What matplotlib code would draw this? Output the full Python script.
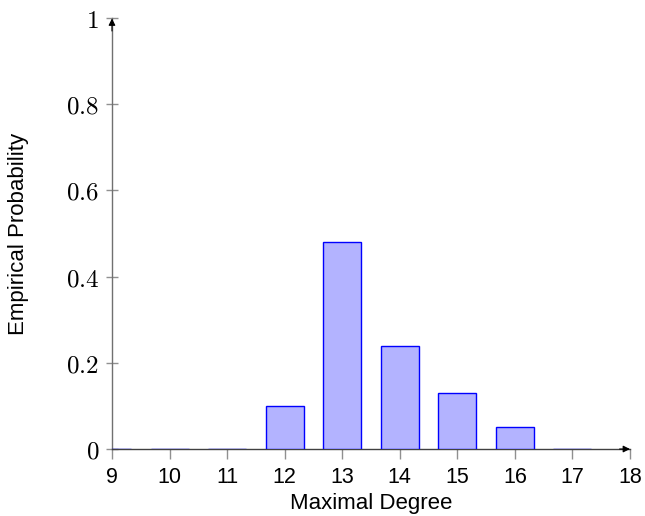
import matplotlib
matplotlib.use("Agg")
import matplotlib.pyplot as plt

degrees = [9, 10, 11, 12, 13, 14, 15, 16, 17]
probabilities = [0.0, 0.0, 0.0, 0.10, 0.48, 0.24, 0.13, 0.05, 0.0]
x_ticks = [9, 10, 11, 12, 13, 14, 15, 16, 17, 18]
y_ticks = [0, 0.2, 0.4, 0.6, 0.8, 1.0]
y_tick_labels = ["$0$", "$0.2$", "$0.4$", "$0.6$", "$0.8$", "$1$"]

plt.rcParams['mathtext.fontset'] = 'cm'
plt.rcParams['font.family'] = ['Liberation Sans', 'DejaVu Sans']

fig = plt.figure(figsize=(6.45, 5.16), dpi=100)
ax = fig.add_axes([0.1736, 0.1298, 0.8031, 0.8352])

ax.bar(degrees, probabilities, width=0.66, color='#b3b3ff', edgecolor='blue',
       linewidth=1.0, zorder=3, clip_on=True)

ax.set_xlim(9, 18)
ax.set_ylim(0, 1)

ax.spines['top'].set_visible(False)
ax.spines['right'].set_visible(False)
ax.spines['left'].set_color('#707070')
ax.spines['bottom'].set_color('#404040')
ax.spines['left'].set_linewidth(1.0)
ax.spines['bottom'].set_linewidth(1.0)

# arrows
ax.annotate('', xy=(1.0, 0), xycoords='axes fraction', xytext=(0.98, 0),
            arrowprops=dict(arrowstyle='-|>', color='black', lw=0.8,
                            mutation_scale=10, shrinkA=0, shrinkB=0), zorder=4)
ax.annotate('', xy=(0, 0.999), xycoords='axes fraction', xytext=(0, 0.97),
            arrowprops=dict(arrowstyle='-|>', color='black', lw=0.8,
                            mutation_scale=10, shrinkA=0, shrinkB=0), zorder=4)

ax.set_xticks(x_ticks)
ax.set_xticklabels([str(t) for t in x_ticks], fontsize=15.5)
ax.set_yticks(y_ticks)
ax.set_yticklabels(y_tick_labels, fontsize=18)

ax.tick_params(axis='x', direction='out', length=7, width=1, color='#909090', pad=6)
ax.tick_params(axis='y', direction='inout', length=8.6, width=1, color='#909090', pad=5)

ax.set_xlabel('Maximal Degree', fontsize=16)
ax.set_ylabel('Empirical Probability', fontsize=16)
ax.xaxis.set_label_coords(0.5, -0.103)
ax.yaxis.set_label_coords(-0.16, 0.5)

fig.savefig('out.png', dpi=100)
